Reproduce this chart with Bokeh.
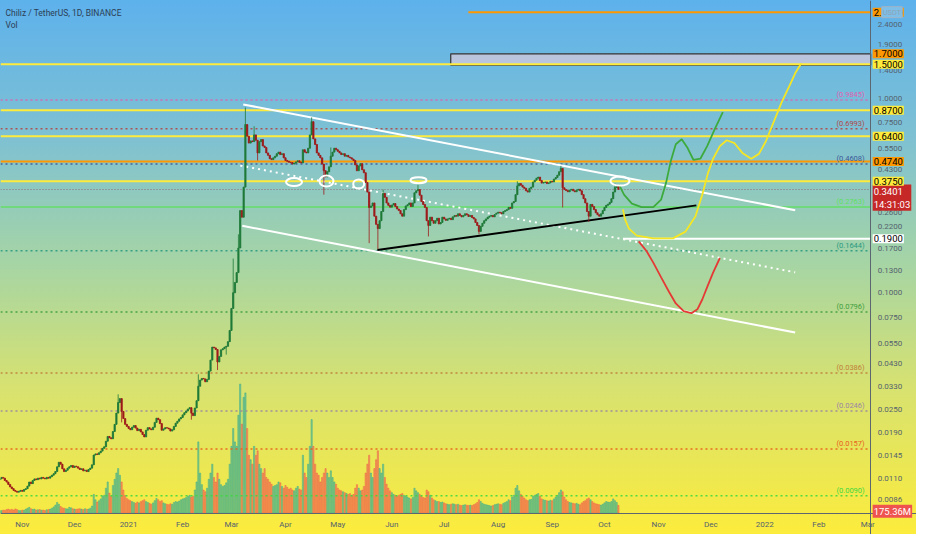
import numpy as np
from bokeh.plotting import figure
from bokeh.models import Range1d, FixedTicker, CustomJSTickFormatter, Label, LinearScale
from bokeh.embed import file_html
from bokeh.resources import INLINE

# ---------------- data (day index 0 = 2020-10-19, daily candles) ----------------
START_DATE = "2020-10-19"
first_open = 0.0109
closes = [
    0.0110, 0.0112, 0.0111, 0.0108, 0.0106, 0.0103, 0.0100, 0.0098, 0.0096, 0.0095,
    0.0094, 0.0095, 0.0096, 0.0095, 0.0097, 0.0098, 0.0101, 0.0106, 0.0104, 0.0108,
    0.0110, 0.0109, 0.0111, 0.0110, 0.0112, 0.0111, 0.0110, 0.0112, 0.0111, 0.0113,
    0.0115, 0.0117, 0.0120, 0.0127, 0.0134, 0.0131, 0.0124, 0.0120, 0.0122, 0.0125,
    0.0127, 0.0129, 0.0126, 0.0128, 0.0127, 0.0125, 0.0123, 0.0124, 0.0121, 0.0122,
    0.0120, 0.0123, 0.0125, 0.0130, 0.0146, 0.0148, 0.0147, 0.0150, 0.0153, 0.0158,
    0.0161, 0.0172, 0.0182, 0.0179, 0.0177, 0.0193, 0.0210, 0.0240, 0.0272, 0.0285,
    0.0245, 0.0225, 0.0210, 0.0205, 0.0200, 0.0197, 0.0203, 0.0207, 0.0201, 0.0195,
    0.0198, 0.0192, 0.0186, 0.0181, 0.0196, 0.0202, 0.0199, 0.0197, 0.0203, 0.0215,
    0.0226, 0.0222, 0.0212, 0.0196, 0.0199, 0.0202, 0.0201, 0.0199, 0.0194, 0.0197,
    0.0205, 0.0213, 0.0218, 0.0224, 0.0228, 0.0235, 0.0241, 0.0246, 0.0252, 0.0256,
    0.0240, 0.0233, 0.0255, 0.0278, 0.0330, 0.0355, 0.0362, 0.0360, 0.0348, 0.0358,
    0.0395, 0.0450, 0.0525, 0.0520, 0.0510, 0.0440, 0.0470, 0.0508, 0.0515, 0.0525,
    0.0530, 0.0560, 0.0640, 0.0830, 0.1000, 0.1130, 0.1270, 0.1700, 0.2650, 0.2450,
    0.3500, 0.7350, 0.6400, 0.5900, 0.6050, 0.6000, 0.6500, 0.6100, 0.5250, 0.6000,
    0.6150, 0.5700, 0.5600, 0.5250, 0.5100, 0.4900, 0.4850, 0.4950, 0.5050, 0.5200,
    0.5300, 0.5150, 0.5200, 0.4950, 0.4800, 0.4750, 0.4700, 0.4680, 0.4600, 0.4650,
    0.4720, 0.4780, 0.4700, 0.4660, 0.5450, 0.5300, 0.5250, 0.5550, 0.6500, 0.7600,
    0.6200, 0.5800, 0.5250, 0.5100, 0.4950, 0.4600, 0.4250, 0.3950, 0.4200, 0.4450,
    0.5050, 0.5300, 0.5550, 0.5450, 0.5350, 0.5250, 0.5150, 0.5200, 0.5050, 0.5100,
    0.5000, 0.4950, 0.4880, 0.4800, 0.4550, 0.4250, 0.4500, 0.4620, 0.4300, 0.4150,
    0.3700, 0.3300, 0.2750, 0.2800, 0.2900, 0.2480, 0.2250, 0.2140, 0.2350, 0.2620,
    0.3250, 0.3100, 0.2900, 0.2820, 0.2760, 0.2830, 0.2880, 0.2780, 0.2700, 0.2650,
    0.2550, 0.2480, 0.2680, 0.2800, 0.2840, 0.2900, 0.2780, 0.2900, 0.3270, 0.3350,
    0.3400, 0.3180, 0.2950, 0.2850, 0.2750, 0.2350, 0.2220, 0.2450, 0.2350, 0.2280,
    0.2350, 0.2420, 0.2260, 0.2300, 0.2450, 0.2400, 0.2360, 0.2400, 0.2420, 0.2380,
    0.2460, 0.2500, 0.2480, 0.2550, 0.2500, 0.2460, 0.2500, 0.2550, 0.2520, 0.2470,
    0.2500, 0.2440, 0.2400, 0.2300, 0.2220, 0.2070, 0.2200, 0.2280, 0.2350, 0.2400,
    0.2450, 0.2480, 0.2500, 0.2460, 0.2540, 0.2570, 0.2600, 0.2580, 0.2550, 0.2620,
    0.2650, 0.2680, 0.2750, 0.2720, 0.2900, 0.2950, 0.3200, 0.3550, 0.3650, 0.3580,
    0.3500, 0.3450, 0.3350, 0.3300, 0.3450, 0.3500, 0.3720, 0.3800, 0.3890, 0.3940,
    0.3780, 0.3670, 0.3700, 0.3720, 0.3650, 0.3680, 0.3750, 0.3720, 0.3850, 0.3920,
    0.4030, 0.4200, 0.4370, 0.3470, 0.3400, 0.3360, 0.3310, 0.3380, 0.3410, 0.3350,
    0.3310, 0.3380, 0.3410, 0.3350, 0.3200, 0.3050, 0.2900, 0.2620, 0.2480, 0.2850,
    0.2780, 0.2680, 0.2580, 0.2520, 0.2480, 0.2550, 0.2650, 0.2750, 0.2820, 0.2860,
    0.2920, 0.3050, 0.3300, 0.3480, 0.3520, 0.3401,
]
volumes_m = [
    60, 55, 70, 65, 80, 90, 75, 85, 70, 95,
    80, 60, 55, 70, 65, 90, 110, 130, 100, 85,
    90, 70, 75, 80, 65, 70, 60, 75, 80, 90,
    110, 140, 180, 240, 200, 150, 120, 110, 100, 95,
    130, 120, 100, 90, 85, 95, 100, 90, 80, 100,
    85, 90, 110, 160, 420, 300, 250, 280, 320, 380,
    400, 560, 700, 450, 380, 620, 760, 900, 1000, 850,
    700, 520, 400, 330, 300, 280, 260, 240, 220, 250,
    230, 260, 280, 300, 260, 240, 220, 200, 230, 280,
    330, 300, 260, 280, 230, 210, 200, 190, 210, 200,
    240, 260, 250, 270, 300, 320, 330, 350, 380, 400,
    360, 380, 520, 700, 1600, 900, 640, 520, 480, 560,
    760, 900, 1100, 800, 700, 900, 760, 640, 600, 620,
    680, 760, 1100, 1500, 1900, 1600, 1500, 2200, 2900, 2000,
    2600, 2700, 1900, 1300, 1200, 1100, 1500, 1300, 1400, 1100,
    1000, 900, 1000, 800, 760, 700, 650, 600, 620, 640,
    700, 680, 600, 560, 620, 580, 540, 560, 520, 500,
    560, 600, 540, 520, 1300, 900, 800, 1100, 1500, 2100,
    1500, 1100, 900, 850, 700, 800, 900, 1000, 900, 800,
    950, 800, 700, 650, 560, 520, 500, 480, 460, 440,
    420, 440, 400, 420, 560, 640, 560, 500, 520, 600,
    900, 1100, 1300, 900, 800, 1000, 1200, 1400, 1000, 900,
    1100, 800, 650, 560, 500, 460, 420, 400, 380, 400,
    420, 440, 400, 380, 360, 340, 320, 350, 560, 500,
    460, 420, 380, 350, 340, 520, 480, 400, 340, 300,
    280, 260, 260, 240, 250, 230, 210, 200, 190, 200,
    210, 200, 190, 200, 180, 170, 180, 190, 180, 170,
    180, 170, 190, 210, 240, 300, 260, 220, 200, 190,
    180, 170, 160, 170, 190, 200, 210, 200, 190, 220,
    240, 260, 300, 280, 360, 400, 560, 620, 500, 420,
    380, 340, 300, 280, 300, 310, 380, 400, 420, 440,
    380, 320, 300, 290, 280, 270, 290, 280, 320, 360,
    400, 460, 520, 480, 360, 300, 260, 240, 230, 220,
    210, 220, 200, 190, 230, 260, 280, 320, 340, 300,
    260, 230, 210, 200, 190, 180, 200, 230, 260, 250,
    240, 260, 320, 280, 240, 175.36,
]
wick_highs = [(68, 0.0300), (114, 0.0380), (134, 0.150), (137, 0.200), (141, 0.900),
              (146, 0.720), (179, 0.800), (190, 0.560), (220, 0.340), (240, 0.360),
              (297, 0.375), (322, 0.450), (353, 0.365)]
wick_lows = [(70, 0.0215), (110, 0.0222), (125, 0.0400), (130, 0.0480), (148, 0.480),
             (186, 0.320), (212, 0.180), (217, 0.168), (246, 0.195), (275, 0.200),
             (323, 0.275), (338, 0.232)]

month_ticks = [13, 43, 74, 105, 133, 164, 194, 225, 255, 286, 317, 347, 378, 408, 439, 470, 498]
month_labels = ["Nov", "Dec", "2021", "Feb", "Mar", "Apr", "May", "Jun", "Jul", "Aug",
                "Sep", "Oct", "Nov", "Dec", "2022", "Feb", "Mar"]
price_ticks = [3.2, 2.4, 1.9, 1.4, 1.0, 0.75, 0.55, 0.43, 0.33, 0.26, 0.22, 0.17, 0.13,
               0.10, 0.075, 0.055, 0.043, 0.033, 0.025, 0.019, 0.0145, 0.011, 0.0086]

yellow_levels = [1.5, 0.87, 0.64, 0.375]
orange_levels = [0.474]
top_orange_start, top_orange_price = 268.9, 2.786
white_start, white_price = 357.6, 0.19
box_start, box_bottom, box_top = 258.8, 1.5, 1.7
fib_levels = [0.9845, 0.6993, 0.4608, 0.2763, 0.1644, 0.0796, 0.0386, 0.0246, 0.0157, 0.0090]
fib_colors = ["#e060b0", "#b04848", "#3d5a9a", "#5ee05e", "#2a9a80", "#3f9f3f",
              "#c0803a", "#9b86a3", "#e8601c", "#3ed83e"]
last_price = 0.3401
last_countdown = "14:31:03"
last_volume_label = "175.36M"

chan_upper_x, chan_upper_y = [139.75, 456.4], [0.933, 0.266]
chan_lower_x, chan_lower_y = [139.2, 456.4], [0.2213, 0.0624]
chan_mid_x, chan_mid_y = [138.1, 456.4], [0.4519, 0.1274]
base_x, base_y = [216.7, 399.7], [0.166, 0.2818]

green_x = [355.4, 358.2, 362.7, 368.3, 375.0, 379.5, 382.3, 385.1, 387.9, 391.3, 394.7, 398.0, 402.0, 405.9, 410.4, 414.9]
green_y = [0.359, 0.320, 0.288, 0.276, 0.276, 0.302, 0.367, 0.479, 0.582, 0.617, 0.556, 0.484, 0.490, 0.569, 0.700, 0.851]
yellow_x = [357.6, 358.7, 361.0, 365.5, 375.0, 386.3, 393.5, 399.2, 403.1, 406.5, 409.3, 413.2, 417.1, 421.6, 426.1, 431.2, 435.6, 439.6, 444.1, 448.6, 453.1, 456.4, 459.8]
yellow_y = [0.269, 0.240, 0.214, 0.197, 0.1905, 0.1905, 0.2065, 0.248, 0.320, 0.417, 0.490, 0.569, 0.610, 0.589, 0.525, 0.490, 0.519, 0.603, 0.759, 0.955, 1.161, 1.349, 1.514]
red_x = [366.6, 371.1, 375.0, 379.5, 384.0, 387.9, 392.4, 396.9, 400.3, 403.1, 405.9, 409.3, 413.2]
red_y = [0.184, 0.164, 0.143, 0.120, 0.1012, 0.0881, 0.0804, 0.0785, 0.0822, 0.0923, 0.107, 0.127, 0.151]

ell_x = [168.9, 187.5, 206.0, 240.3, 355.9]
ell_y = [0.3715, 0.3758, 0.363, 0.380, 0.3758]
ell_w = [16, 14, 11, 16, 19]
ell_h = [8, 11, 9, 6, 9]

# ---------------- figure ----------------
# the frame covers the whole canvas; the axes sit at fixed data positions inside it
X0, X_END = 0.5, 526.0        # full canvas width in day units
AX_X = 499.7                  # price-axis position (right edge of chart pane)
Y_BOT, Y1 = 0.00569, 3.199    # full canvas height in price units (log)
AX_Y = 0.00733                # time-axis position (bottom of chart pane)
FONT = "Roboto"
AX_COL = "#55626e"

p = figure(width=916, height=534, x_range=Range1d(X0, X_END), y_range=Range1d(Y_BOT, Y1),
           y_axis_type="log", y_axis_location="right", output_backend="svg",
           toolbar_location=None, min_border_left=0, min_border_top=0,
           min_border_right=0, min_border_bottom=0)
p.background_fill_alpha = 0
p.border_fill_alpha = 0
p.outline_line_color = None
p.styles = {"background-image": "linear-gradient(180deg, #5db1ec 0%, #7fc1d2 26%, #a7d5a3 50%, #d8e26f 73%, #fcec3c 100%)"}
p.grid.visible = False

p.extra_y_ranges = {"vol": Range1d(-480, 11513)}
p.extra_y_scales = {"vol": LinearScale()}

# axes
for ax in (p.xaxis[0], p.yaxis[0]):
    ax.major_tick_line_color = None
    ax.minor_tick_line_color = None
    ax.major_tick_out = 0
    ax.major_tick_in = 0
    ax.minor_tick_out = 0
    ax.minor_tick_in = 0
    ax.axis_line_color = "#5b6670"
    ax.major_label_text_font = FONT
    ax.major_label_text_font_size = "8px"
    ax.major_label_text_color = AX_COL

xa = p.xaxis[0]
xa.fixed_location = AX_Y
xa.ticker = FixedTicker(ticks=month_ticks)
xa.major_label_overrides = {t: l for t, l in zip(month_ticks, month_labels)}
xa.major_label_standoff = 7

ya = p.yaxis[0]
ya.fixed_location = AX_X
ya.ticker = FixedTicker(ticks=price_ticks)
ya.formatter = CustomJSTickFormatter(code="return tick.toFixed(4);")
ya.major_label_standoff = 7

# volume
n = len(closes)
idx = np.arange(n)
opens = [first_open] + closes[:-1]
up = [c >= o for o, c in zip(opens, closes)]
vol_col = ["#26a69a" if u else "#ef5350" for u in up]
p.vbar(x=idx, top=volumes_m, bottom=0, width=0.7, color=vol_col, alpha=0.45, y_range_name="vol")

# horizontal levels
for lvl, col in zip(fib_levels, fib_colors):
    dash = "solid" if lvl == 0.2763 else "2 3"
    p.segment(x0=[X0], y0=[lvl], x1=[AX_X], y1=[lvl], line_color=col, line_width=1.5,
              line_dash=dash, line_alpha=0.9)
    p.add_layout(Label(x=AX_X, y=lvl, x_offset=-6, y_offset=1, text=f"({lvl:.4f})",
                       text_align="right", text_baseline="bottom", text_color=col,
                       text_font=FONT, text_font_size="7.5px"))
p.segment(x0=[X0], y0=[last_price], x1=[AX_X], y1=[last_price], line_color="#8d6a72",
          line_width=1, line_dash="1 2")

p.quad(left=[box_start], right=[AX_X], bottom=[box_bottom * 0.99], top=[box_top],
       fill_color="#c3c6dd", fill_alpha=0.9, line_color="#333333", line_width=1.2)
for lvl in yellow_levels:
    p.segment(x0=[X0], y0=[lvl], x1=[AX_X], y1=[lvl], line_color="#ffeb3b", line_width=2)
for lvl in orange_levels:
    p.segment(x0=[X0], y0=[lvl], x1=[AX_X], y1=[lvl], line_color="#ff9800", line_width=2)
p.segment(x0=[top_orange_start], y0=[top_orange_price], x1=[AX_X], y1=[top_orange_price],
          line_color="#ff9800", line_width=2)
p.segment(x0=[white_start], y0=[white_price], x1=[AX_X], y1=[white_price],
          line_color="white", line_width=2)

# channel / trend lines
p.line(chan_upper_x, chan_upper_y, line_color="white", line_width=2)
p.line(chan_lower_x, chan_lower_y, line_color="white", line_width=2)
p.line(chan_mid_x, chan_mid_y, line_color="white", line_width=2, line_dash="2 4")
p.line(base_x, base_y, line_color="black", line_width=2)

# candles
tops = [max(o, c) for o, c in zip(opens, closes)]
bots = [min(o, c) for o, c in zip(opens, closes)]
highs = list(tops)
lows = list(bots)
for i, v in wick_highs:
    highs[i] = max(highs[i], v)
for i, v in wick_lows:
    lows[i] = min(lows[i], v)
ccol = ["#1f7a38" if u else "#9e1b1b" for u in up]
p.segment(x0=idx, y0=lows, x1=idx, y1=highs, line_color=ccol, line_width=1, line_alpha=0.8)
p.vbar(x=idx, top=tops, bottom=bots, width=0.72, fill_color=ccol, line_color=ccol, line_width=0.8)

# projection curves
p.line(green_x, green_y, line_color="#3daa3d", line_width=1.8)
p.line(yellow_x, yellow_y, line_color="#f5e625", line_width=1.8)
p.line(red_x, red_y, line_color="#e53935", line_width=1.8)

# ellipses
p.ellipse(x=ell_x, y=ell_y, width=ell_w, height=ell_h, width_units="screen",
          height_units="screen", fill_alpha=0, line_color="white", line_width=2)

# header text
p.add_layout(Label(x=X0, y=Y1, x_offset=5, y_offset=-7, text="Chiliz / TetherUS, 1D, BINANCE",
                   text_baseline="top", text_color="#2c3e55", text_font=FONT, text_font_size="8.5px"))
p.add_layout(Label(x=X0, y=Y1, x_offset=5, y_offset=-19, text="Vol",
                   text_baseline="top", text_color="#2c3e55", text_font=FONT, text_font_size="8.5px"))

# price tags on the price axis
def tag(y, text, bg, fg="black", xo=2, size="9.5px", border=None, pad=1,
        baseline="middle", yo=0):
    p.add_layout(Label(x=AX_X, y=y, x_offset=xo, y_offset=yo, text=text, text_align="left",
                       text_baseline=baseline, text_color=fg, text_font=FONT,
                       text_font_size=size, background_fill_color=bg,
                       background_fill_alpha=1, border_line_color=border, padding=pad))

tag(top_orange_price, f"{top_orange_price:.4f}", "#ff9800")
tag(top_orange_price, "USDT", "#7dbfe9", fg="#8fa3b5", xo=11, size="7.5px", border="#9fb3c5", pad=1)
tag(box_top, f"{box_top:.4f}", "#ff9800")
tag(box_bottom, f"{box_bottom:.4f}", "#ffeb3b")
tag(last_price, f"{last_price:.4f}\n{last_countdown}", "#c62828", fg="white",
    baseline="top", yo=5)
for lvl in yellow_levels[1:]:
    tag(lvl, f"{lvl:.4f}", "#ffeb3b")
tag(orange_levels[0], f"{orange_levels[0]:.4f}", "#ff9800")
tag(white_price, f"{white_price:.4f}", "#ffffff")
tag(0.0075, last_volume_label, "#ef5350", fg="white")

open("out.html", "w").write(file_html(p, INLINE))
